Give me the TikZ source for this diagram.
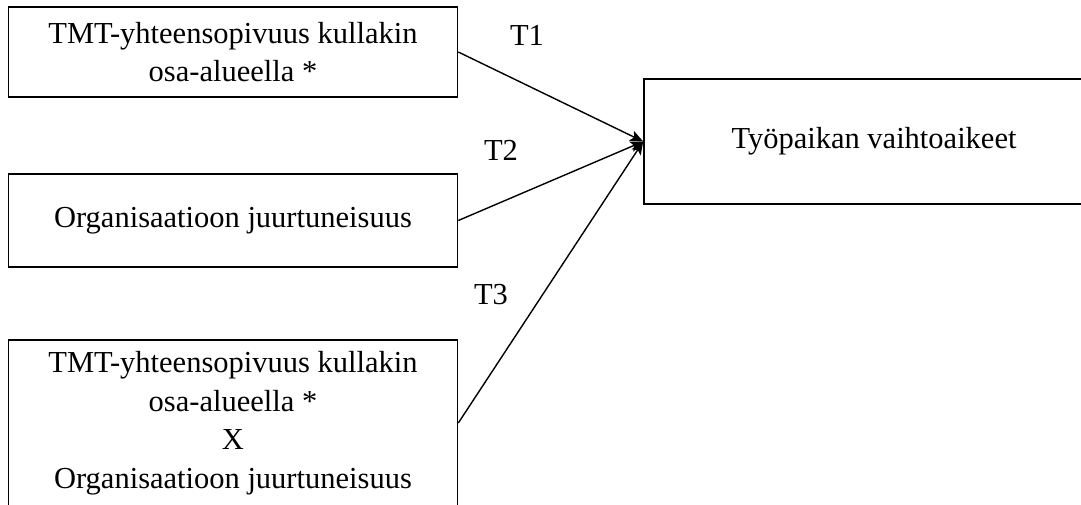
\documentclass[tikz,border=0pt]{standalone}
\usepackage{fontspec}
\setmainfont{Liberation Serif}
\usetikzlibrary{arrows.meta}
\tikzset{->, >={Stealth[length=13pt, width=11pt, inset=3pt]},
    box/.style={draw, line width=1.6pt, align=center, minimum width=449pt, font=\fontsize{30.5}{38.5}\selectfont},
    lbl/.style={font=\fontsize{30.5}{38.5}\selectfont}}

\begin{document}
\begin{tikzpicture}[x=1pt, y=-1pt, line width=1.4pt]
    \useasboundingbox (0,0) rectangle (1081,504);
    \node[box, minimum height=90pt] (tmt) at (233,52) {TMT-yhteensopivuus kullakin\\osa-alueella *};
    \node[box, minimum height=93pt] (juur) at (233,220.5) {Organisaatioon juurtuneisuus};
    \node[box, minimum height=166pt] (yhd) at (233,423) {TMT-yhteensopivuus kullakin\\osa-alueella *\\X\\Organisaatioon juurtuneisuus};
    \node[box, minimum width=460pt, minimum height=125pt] (vaihto) at (874,141.5) {Työpaikan vaihtoaikeet};
    \node[lbl] (t1) at (527,35) {T1};
    \node[lbl] (t2) at (501,150) {T2};
    \node[lbl] (t3) at (491,295) {T3};
    \draw (tmt.east) -- (vaihto.west);
    \draw (juur.east) -- (vaihto.west);
    \draw (yhd.east) -- (vaihto.west);
\end{tikzpicture}
\end{document}
